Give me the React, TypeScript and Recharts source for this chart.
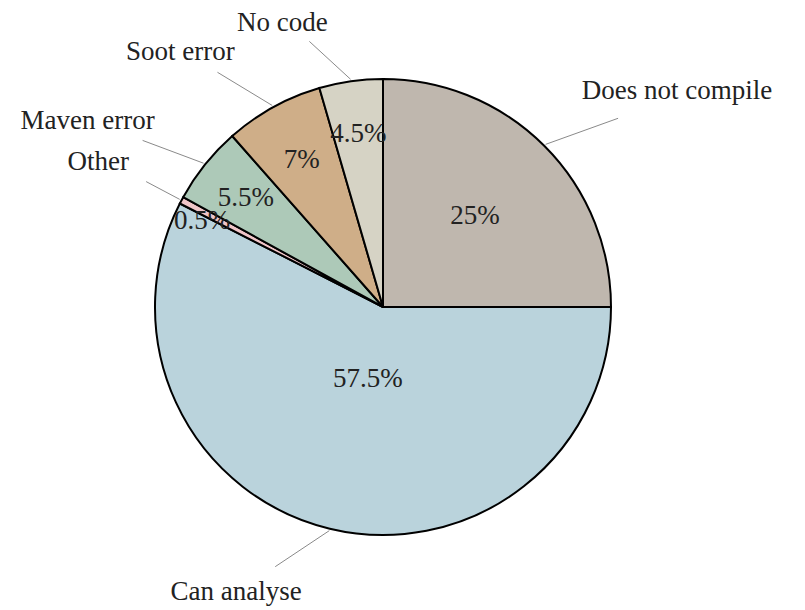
import { PieChart, Pie, Cell } from "recharts";

const categories = ["Does not compile", "Can analyse", "Other", "Maven error", "Soot error", "No code"];
const shares = [25, 57.5, 0.5, 5.5, 7, 4.5];
const colors = ["#bfb7ae", "#bad3dc", "#f0c5c8", "#adc9b8", "#cfae88", "#d6d3c5"];

// leader line layout per slice: how far the line bends toward horizontal, and its length
const leaderTilt = [0.44, 0.44, 1, 0.53, 0.51, 0.52];
const leaderLength = [77, 65, 38, 65, 64, 56];
// outside name offset from the end of the leader line
const nameOffset = [
  [59, -28],
  [-39, 24],
  [-48, -21],
  [-55, -20],
  [-37, -21],
  [-27, -19],
];
// where the percentage sits inside each slice: fraction of the radius, and a small turn in degrees
const percentRadius = [0.57, 0.32, 0.88, 0.77, 0.74, 0.77];
const percentTurn = [0, 1.5, 2.2, 0, 0, 0];

const data = categories.map((name, i) => ({ name, value: shares[i] }));

const RAD = Math.PI / 180;
const FONT = "'Liberation Serif', 'DejaVu Serif', serif";

const renderLabel = (props: any) => {
  const { cx, cy, midAngle, outerRadius, index, value } = props;
  const ux = Math.cos(-midAngle * RAD);
  const uy = Math.sin(-midAngle * RAD);

  const sx = cx + ux * (outerRadius + 2);
  const sy = cy + uy * (outerRadius + 2);
  const radial = Math.atan2(Math.abs(uy), Math.abs(ux));
  const bent = radial * leaderTilt[index];
  const len = leaderLength[index];
  const ex = sx + Math.sign(ux) * Math.cos(bent) * len;
  const ey = sy + Math.sign(uy) * Math.sin(bent) * len;

  const [dx, dy] = nameOffset[index];
  const pr = outerRadius * percentRadius[index];
  const pa = (midAngle + percentTurn[index]) * RAD;
  const textStyle = { fontFamily: FONT, fontSize: 27 };

  return (
    <g>
      <line x1={sx} y1={sy} x2={ex} y2={ey} stroke="#8a8a8a" strokeWidth={1} />
      <text
        x={ex + dx}
        y={ey + dy}
        textAnchor="middle"
        dominantBaseline="central"
        fill="#222"
        style={textStyle}
      >
        {categories[index]}
      </text>
      <text
        x={cx + Math.cos(-pa) * pr}
        y={cy + Math.sin(-pa) * pr}
        textAnchor="middle"
        dominantBaseline="central"
        fill="#222"
        style={textStyle}
      >
        {`${value}%`}
      </text>
    </g>
  );
};

export default function App() {
  return (
    <div style={{ position: "absolute", left: 0, top: 0, width: 805, height: 610, background: "#fff" }}>
      <PieChart width={805} height={610} margin={{ top: 0, right: 0, bottom: 0, left: 0 }}>
        <Pie
          data={data}
          dataKey="value"
          nameKey="name"
          cx={383}
          cy={307}
          outerRadius={228}
          startAngle={90}
          endAngle={-270}
          stroke="#000"
          strokeWidth={2}
          label={renderLabel}
          labelLine={false}
          isAnimationActive={false}
        >
          {data.map((d, i) => (
            <Cell key={d.name} fill={colors[i]} stroke="#000" strokeWidth={2} />
          ))}
        </Pie>
      </PieChart>
    </div>
  );
}
